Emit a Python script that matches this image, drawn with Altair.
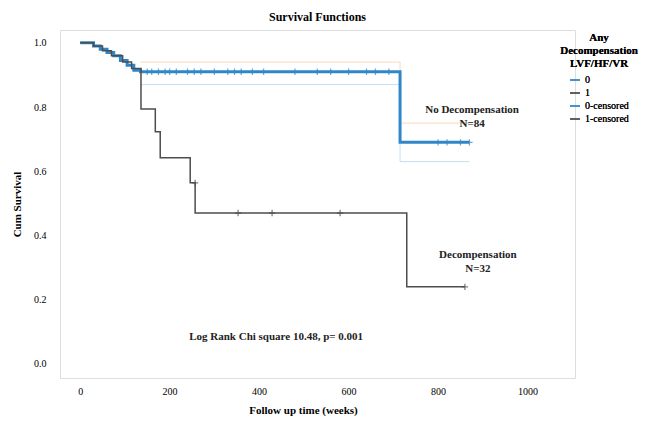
import altair as alt
import pandas as pd

# --- data ---
# group "0" = No decompensation, group "1" = Decompensation
t0 = [0, 30, 45, 60, 75, 90, 105, 120, 135, 715, 870]
s0 = [1.0, 0.99, 0.98, 0.97, 0.96, 0.945, 0.93, 0.915, 0.91, 0.69, 0.69]
t1 = [0, 30, 50, 70, 95, 115, 136, 168, 179, 246, 257, 730, 860]
s1 = [1.0, 0.99, 0.975, 0.96, 0.94, 0.92, 0.794, 0.723, 0.642, 0.564, 0.470, 0.24, 0.24]

# faint confidence limits around the upper curve
ci_t = [135, 715, 870]
ci_hi = [0.94, 0.75, 0.75]
ci_lo = [0.87, 0.63, 0.63]

c0_t = [150, 160, 175, 190, 200, 215, 240, 255, 270, 300, 330, 345, 360, 385,
        410, 480, 530, 560, 600, 640, 660, 690, 800, 820, 850, 870]
c0_s = [0.91] * 22 + [0.69] * 4
c1_t = [257, 353, 429, 581, 860]
c1_s = [0.564, 0.47, 0.47, 0.47, 0.24]

legend_domain = ["0", "1", "0-censored", "1-censored"]
legend_colors = ["#2f86c8", "#4d4d4d", "#2f86c8", "#4d4d4d"]

lines = pd.DataFrame({"t": t0 + t1, "s": s0 + s1,
                      "g": ["0"] * len(t0) + ["1"] * len(t1)})
cens = pd.DataFrame({"t": c0_t + c1_t, "s": c0_s + c1_s,
                     "g": ["0-censored"] * len(c0_t) + ["1-censored"] * len(c1_t)})
ci = pd.DataFrame({"t": ci_t * 2, "s": ci_hi + ci_lo,
                   "b": ["hi"] * 3 + ["lo"] * 3})

notes = pd.DataFrame({
    "t": [876, 889, 438],
    "s": [0.79, 0.34, 0.084],
    "txt": [["No Decompensation", "N=84"], ["Decompensation", "N=32"],
            ["Log Rank Chi square 10.48, p= 0.001"]],
})

FONT = "Liberation Serif"
xs = alt.Scale(domain=[-45, 1106], nice=False, zero=False)
ys = alt.Scale(domain=[-0.044, 1.04], nice=False, zero=False)
color = alt.Color("g:N", scale=alt.Scale(domain=legend_domain, range=legend_colors),
                  legend=alt.Legend(title=["Any", "Decompensation", "LVF/HF/VR"],
                                    orient="none", legendX=500, legendY=2,
                                    titleAnchor="middle", titleAlign="center",
                                    titleFont=FONT, titleFontSize=11, titleFontWeight="bold",
                                    labelFont=FONT, labelFontSize=10,
                                    symbolType="stroke", symbolStrokeWidth=1.5,
                                    rowPadding=2))

x_enc = alt.X("t:Q", scale=xs, axis=alt.Axis(values=[0, 200, 400, 600, 800, 1000], format="d",
              title="Follow up time (weeks)", domain=False, ticks=False, grid=False,
              labelPadding=8, titleX=243, titleY=26, labelFont=FONT, labelFontSize=10,
              titleFont=FONT, titleFontSize=11, titleFontWeight="bold"))
y_enc = alt.Y("s:Q", scale=ys, axis=alt.Axis(values=[0, 0.2, 0.4, 0.6, 0.8, 1.0], format=".1f",
              title="Cum Survival", domain=False, ticks=False, grid=False,
              labelPadding=14, titleX=-38, labelFont=FONT, labelFontSize=10,
              titleFont=FONT, titleFontSize=11, titleFontWeight="bold"))

ci_layer = alt.Chart(ci).mark_line(interpolate="step-after", strokeWidth=1, opacity=0.7).encode(
    x=alt.X("t:Q", scale=xs), y=alt.Y("s:Q", scale=ys), detail="b:N",
    color=alt.Color("b:N", scale=alt.Scale(domain=["hi", "lo"], range=["#f3c79c", "#a9d3ef"]),
                    legend=None))

line_layer = alt.Chart(lines).mark_line(interpolate="step-after").encode(
    x=x_enc, y=y_enc, color=color,
    strokeWidth=alt.StrokeWidth("g:N", scale=alt.Scale(domain=["0", "1"], range=[3, 1.5]),
                                legend=None))

cens_layer = alt.Chart(cens).mark_point(shape="M-1,0H1M0,-1V1", size=40, strokeWidth=1.3,
                                        filled=False).encode(
    x=alt.X("t:Q", scale=xs), y=alt.Y("s:Q", scale=ys), color=color)

note_layer = alt.Chart(notes).mark_text(font=FONT, fontSize=11, fontWeight="bold",
                                        color="#222", lineHeight=14).encode(
    x=alt.X("t:Q", scale=xs), y=alt.Y("s:Q", scale=ys), text="txt")

chart = alt.layer(ci_layer, line_layer, cens_layer, note_layer).resolve_scale(
    color="independent"
).properties(
    width=515, height=348,
    title=alt.TitleParams("Survival Functions", font=FONT, fontSize=12, fontWeight="bold",
                          anchor="middle", offset=6),
    autosize=alt.AutoSizeParams(type="none"),
    padding={"left": 52, "top": 22, "right": 79, "bottom": 38},
).configure_view(stroke=None).configure(background="white")

chart.save("out.html", embed_options={"renderer": "svg", "actions": False})
